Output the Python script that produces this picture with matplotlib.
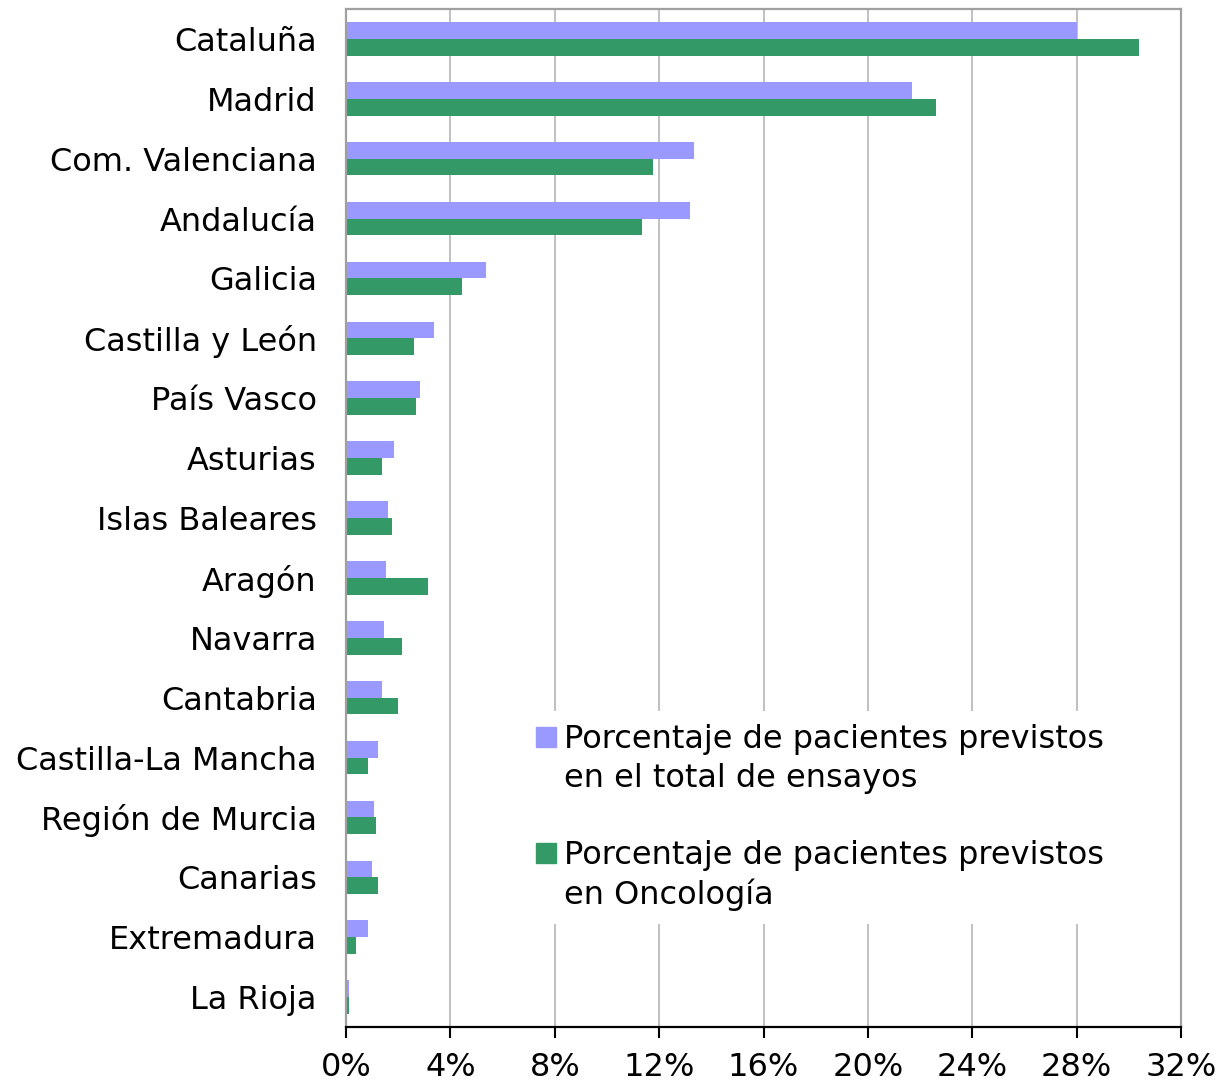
import matplotlib.pyplot as plt
import numpy as np
from matplotlib.patches import Patch
from matplotlib.ticker import FuncFormatter

# comunidades, de arriba a abajo
regiones = [
    "Cataluña", "Madrid", "Com. Valenciana", "Andalucía", "Galicia",
    "Castilla y León", "País Vasco", "Asturias", "Islas Baleares", "Aragón",
    "Navarra", "Cantabria", "Castilla-La Mancha", "Región de Murcia",
    "Canarias", "Extremadura", "La Rioja",
]
# porcentaje de pacientes previstos en el total de ensayos
total_ensayos = [28.0, 21.7, 13.35, 13.2, 5.37, 3.38, 2.84, 1.84, 1.61, 1.53,
                 1.46, 1.38, 1.23, 1.07, 1.0, 0.84, 0.1]
# porcentaje de pacientes previstos en Oncología
oncologia = [30.4, 22.6, 11.75, 11.35, 4.45, 2.6, 2.69, 1.38, 1.77, 3.15,
             2.15, 2.0, 0.84, 1.15, 1.23, 0.38, 0.1]
ticks_x = [0, 4, 8, 12, 16, 20, 24, 28, 32]

label_total = "Porcentaje de pacientes previstos"
label_total_2 = "en el total de ensayos"
label_onco = "Porcentaje de pacientes previstos"
label_onco_2 = "en Oncología"

color_total = "#9999ff"
color_onco = "#339966"
gris = "#a0a0a0"

plt.rcParams['font.family'] = ['DejaVu Sans']
fs = 23

fig = plt.figure(figsize=(12.18, 10.83), dpi=100)
ax = fig.add_axes([346 / 1218, 1 - 1027 / 1083, 835 / 1218, 1018 / 1083])

y = np.arange(len(regiones))
h = 0.28
ax.barh(y - h / 2, total_ensayos, height=h, color=color_total, zorder=2)
ax.barh(y + h / 2, oncologia, height=h, color=color_onco, zorder=2)

ax.set_ylim(len(regiones) - 0.5, -0.5)
ax.set_xlim(0, 32)
ax.set_yticks(y)
ax.set_yticklabels(regiones, fontsize=fs)
ax.set_xticks(ticks_x)
ax.xaxis.set_major_formatter(FuncFormatter(lambda v, p: "%d%%" % v))
ax.tick_params(axis='x', labelsize=fs, length=8, width=1.5, color='black', pad=10)
ax.tick_params(axis='y', length=0, pad=21)

ax.grid(True, axis='x', color='#c0c0c0', linewidth=1.4)
ax.set_axisbelow(True)

for lado in ['top', 'right', 'left']:
    ax.spines[lado].set_color(gris)
    ax.spines[lado].set_linewidth(1.6)
ax.spines['bottom'].set_color('black')
ax.spines['bottom'].set_linewidth(1.6)

# leyenda: lineas separadas para que el cuadro quede junto a la primera linea
vacio = Patch(facecolor='none', edgecolor='none')
handles = [Patch(color=color_total), vacio, vacio, Patch(color=color_onco), vacio]
labels = [label_total, label_total_2, " ", label_onco, label_onco_2]
leg = ax.legend(handles, labels, loc='upper left', bbox_to_anchor=(0.212, 0.310),
                fontsize=fs, frameon=True, framealpha=1, facecolor='white',
                edgecolor='none', fancybox=False, borderaxespad=0,
                handlelength=0.62, handleheight=0.62, handletextpad=0.25,
                labelspacing=0.24)

fig.savefig("out.png", dpi=100)
